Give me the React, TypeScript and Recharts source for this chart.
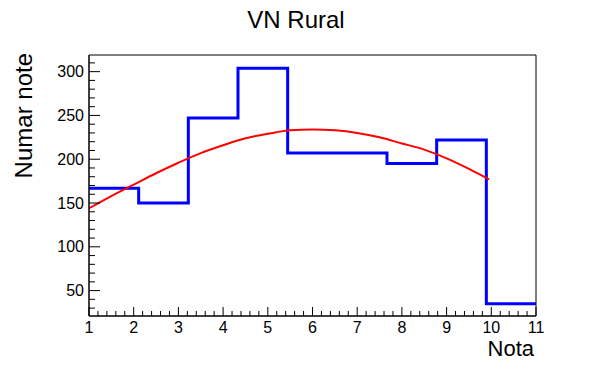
import { ComposedChart, Line, XAxis, YAxis, ReferenceArea } from 'recharts';

// histogram: 9 bins between 1 and 11
const X_MIN = 1;
const X_MAX = 11;
const binValues = [167, 150, 247, 304, 207, 207, 195, 222, 35];

// fitted curve
const fitX = [1, 1.5, 2, 2.5, 3, 3.5, 4, 4.5, 5, 5.5, 6, 6.5, 7, 7.5, 8, 8.5, 9, 9.5, 9.95];
const fitY = [144, 158, 171, 184, 196, 207, 216, 224, 229, 233, 234, 233, 230, 225, 218, 211, 201, 189, 177];

const xMajorTicks = [1, 2, 3, 4, 5, 6, 7, 8, 9, 10, 11];
const yMajorTicks = [50, 100, 150, 200, 250, 300];
const Y_DOMAIN: [number, number] = [21, 319];

const FONT = '"Liberation Sans", Arial, Helvetica, sans-serif';

const binWidth = (X_MAX - X_MIN) / binValues.length;
const histData = binValues
  .map((v, i) => ({ x: X_MIN + i * binWidth, y: v }))
  .concat([{ x: X_MAX, y: binValues[binValues.length - 1] }]);
const fitData = fitX.map((x, i) => ({ x, y: fitY[i] }));

// minor ticks: 5 divisions on x, 10 units on y
const xTicks: number[] = [];
for (let i = 0; i <= (X_MAX - X_MIN) * 5; i++) xTicks.push(X_MIN + i / 5);
const yTicks: number[] = [];
for (let v = 30; v <= 310; v += 10) yTicks.push(v);

const isMajor = (v: number, list: number[]) => list.some((m) => Math.abs(m - v) < 1e-6);

function XTick(props: any) {
  const { x, y, payload } = props;
  const major = isMajor(payload.value, xMajorTicks);
  return (
    <g>
      <line x1={x} x2={x} y1={y} y2={y - (major ? 9 : 5)} stroke="#000" />
      {major && (
        <text x={x} y={y + 17} textAnchor="middle" fontSize={16} fontFamily={FONT} fill="#000">
          {Math.round(payload.value)}
        </text>
      )}
    </g>
  );
}

function YTick(props: any) {
  const { x, y, payload } = props;
  const major = isMajor(payload.value, yMajorTicks);
  return (
    <g>
      <line x1={x} x2={x + (major ? 11 : 6)} y1={y} y2={y} stroke="#000" />
      {major && (
        <text x={x - 5} y={y + 5.5} textAnchor="end" fontSize={16} fontFamily={FONT} fill="#000">
          {payload.value}
        </text>
      )}
    </g>
  );
}

export default function App() {
  return (
    <div style={{ position: 'relative', width: 596, height: 372, background: '#fff' }}>
      <style>{'body{margin:0}'}</style>
      <ComposedChart width={596} height={372} margin={{ top: 55, right: 60, left: 0, bottom: 0 }}>
        <XAxis
          type="number"
          dataKey="x"
          domain={[X_MIN, X_MAX]}
          ticks={xTicks}
          interval={0}
          tickSize={0}
          tickMargin={0}
          tick={(p: any) => <XTick {...p} />}
          axisLine={{ stroke: '#000' }}
          height={56}
          allowDataOverflow
        />
        <YAxis
          type="number"
          domain={Y_DOMAIN}
          ticks={yTicks}
          interval={0}
          tickSize={0}
          tickMargin={0}
          tick={(p: any) => <YTick {...p} />}
          axisLine={{ stroke: '#000' }}
          width={89}
          allowDataOverflow
        />
        <ReferenceArea x1={X_MIN} x2={X_MAX} y1={Y_DOMAIN[0]} y2={Y_DOMAIN[1]} fill="none" stroke="#000" strokeWidth={1} fillOpacity={0} />
        <Line
          data={histData}
          dataKey="y"
          type="stepAfter"
          stroke="#0000ff"
          strokeWidth={3}
          dot={false}
          isAnimationActive={false}
        />
        <Line
          data={fitData}
          dataKey="y"
          type="monotone"
          stroke="#ff0000"
          strokeWidth={2}
          dot={false}
          isAnimationActive={false}
        />
      </ComposedChart>
      <svg width={596} height={372} style={{ position: 'absolute', left: 0, top: 0, pointerEvents: 'none' }}>
        <text x={296} y={28} textAnchor="middle" fontSize={24} fontFamily={FONT} fill="#000">
          VN Rural
        </text>
        <text transform="translate(32,53) rotate(-90)" textAnchor="end" fontSize={24} fontFamily={FONT} fill="#000">
          Numar note
        </text>
        <text x={534} y={356} textAnchor="end" fontSize={22} fontFamily={FONT} fill="#000">
          Nota
        </text>
      </svg>
    </div>
  );
}
